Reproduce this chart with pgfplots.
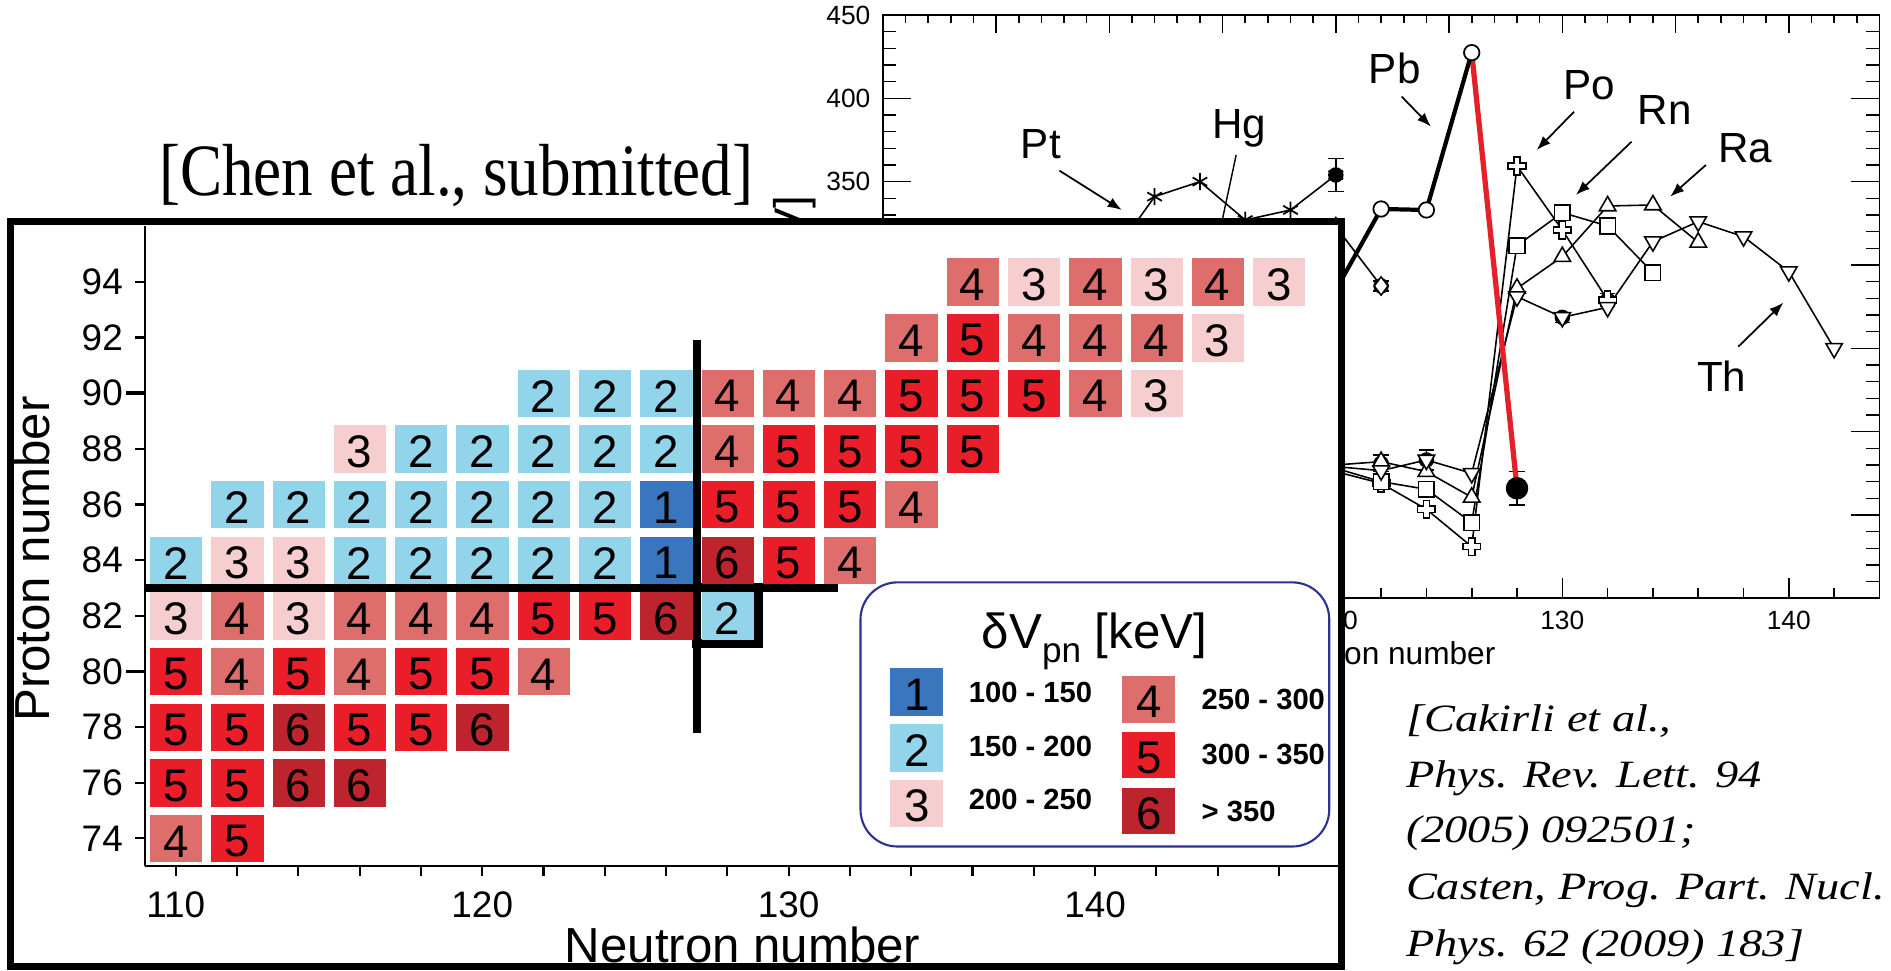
\documentclass[border=0pt]{standalone}
\usepackage{fontspec}
\setmainfont{Liberation Sans}
\newfontfamily\timesfont{Liberation Serif}
\usepackage{pgfplots}
\pgfplotsset{compat=1.18}
\usetikzlibrary{arrows.meta}

\definecolor{c1}{RGB}{58,118,190}
\definecolor{c2}{RGB}{146,212,234}
\definecolor{c3}{RGB}{246,206,208}
\definecolor{c4}{RGB}{222,110,108}
\definecolor{c5}{RGB}{234,30,40}
\definecolor{c6}{RGB}{190,36,46}
\definecolor{lgb}{RGB}{45,50,145}
\definecolor{redline}{RGB}{228,32,40}

\pgfdeclareplotmark{hplus}{%
 \pgfpathmoveto{\pgfqpoint{-0.35\pgfplotmarksize}{\pgfplotmarksize}}%
 \pgfpathlineto{\pgfqpoint{0.35\pgfplotmarksize}{\pgfplotmarksize}}%
 \pgfpathlineto{\pgfqpoint{0.35\pgfplotmarksize}{0.35\pgfplotmarksize}}%
 \pgfpathlineto{\pgfqpoint{\pgfplotmarksize}{0.35\pgfplotmarksize}}%
 \pgfpathlineto{\pgfqpoint{\pgfplotmarksize}{-0.35\pgfplotmarksize}}%
 \pgfpathlineto{\pgfqpoint{0.35\pgfplotmarksize}{-0.35\pgfplotmarksize}}%
 \pgfpathlineto{\pgfqpoint{0.35\pgfplotmarksize}{-\pgfplotmarksize}}%
 \pgfpathlineto{\pgfqpoint{-0.35\pgfplotmarksize}{-\pgfplotmarksize}}%
 \pgfpathlineto{\pgfqpoint{-0.35\pgfplotmarksize}{-0.35\pgfplotmarksize}}%
 \pgfpathlineto{\pgfqpoint{-\pgfplotmarksize}{-0.35\pgfplotmarksize}}%
 \pgfpathlineto{\pgfqpoint{-\pgfplotmarksize}{0.35\pgfplotmarksize}}%
 \pgfpathlineto{\pgfqpoint{-0.35\pgfplotmarksize}{0.35\pgfplotmarksize}}%
 \pgfpathclose
 \pgfusepathqfillstroke
}

\pgfplotsset{
  bgaxis/.style={at={(8.828cm,-5.983cm)}, anchor=south west, scale only axis,
    width=9.966cm, height=5.833cm, xmin=100, xmax=144, ymin=100, ymax=450,
    /pgf/number format/assume math mode=true,
    axis line style={line width=0.5pt},
    tick style={black, line width=0.45pt}},
  cellplot/.style={only marks, mark=square*, mark size=7.3pt,
    mark options={draw=#1, fill=#1, line width=0.1pt, yscale=0.904},
    nodes near coords align={center},
    every node near coord/.append style={font=\fontsize{13}{13}\selectfont, text=black, yshift=-0.03cm}},
}

\begin{document}
\begin{tikzpicture}
\useasboundingbox (0,0) rectangle (18.91cm,-9.71cm);

% ---------------- background chart ----------------
\begin{axis}[bgaxis, clip=false,
  xtick=\empty,
  ytick={100,150,...,450}, minor ytick={100,110,...,450},
  yticklabels={,,,,,350,400,450},
  ytick pos=both, tick align=inside,
  major tick length=0.28cm, minor tick length=0.13cm,
  yticklabel style={font=\fontsize{7.5}{8}\selectfont},
  ylabel={δV\textsubscript{pn} [keV]},
  ylabel style={at={(axis description cs:-0.0761,0.51)}, anchor=base, font=\fontsize{13}{14}\selectfont},
]
% error bars
\addplot[only marks, mark=none, black, error bars/.cd, y dir=both, y explicit,
  error bar style={line width=0.45pt}, error mark options={rotate=90, mark size=2.2pt, line width=0.45pt}]
  coordinates {(120,354) +- (0,10) (122,287.4) +- (0,3) (132,279) +- (0,4) (130,268.6) +- (0,3)
               (124,183) +- (0,6) (122,181) +- (0,5) (128,166) +- (0,10)};
% Pt
\addplot[black, line width=0.45pt, mark=asterisk, mark size=2.4pt, mark options={solid, line width=0.5pt}]
  coordinates {(110,303) (112,341) (114,350) (116,327) (118,333) (120,354)};
% Hg
\addplot[black, line width=0.45pt, mark=diamond*, mark size=2.6pt, mark options={fill=white}]
  coordinates {(120,323) (122,287.4)};
% Po
\addplot[black, line width=0.45pt, mark=hplus, mark size=2.5pt, mark options={fill=white}]
  coordinates {(120,176) (122,169) (124,153.4) (126,131) (128,359.4) (130,321) (132,279)};
% Rn
\addplot[black, line width=0.45pt, mark=square*, mark size=2.2pt, mark options={fill=white}]
  coordinates {(120,178) (122,170) (124,165.4) (126,145.4) (128,311.6) (130,331.4) (132,323.4) (134,295.4)};
% Ra
\addplot[black, line width=0.45pt, mark=triangle*, mark size=2.7pt, mark options={fill=white}]
  coordinates {(120,180) (122,182) (124,176) (126,160.6) (128,286) (130,305) (132,335.4) (134,336) (136,313.6)};
% Th
\addplot[black, line width=0.45pt, mark=triangle*, mark size=2.7pt, mark options={fill=white, rotate=180}]
  coordinates {(120,179) (122,176.6) (124,183) (126,175) (128,281) (130,268.6) (132,274.6) (134,314) (136,326) (138,317) (140,296) (142,250)};
% red line
\addplot[redline, line width=1.5pt] coordinates {(126,427.4) (128,166)};
% Pb
\addplot[black, line width=1.2pt, mark=*, mark size=2.2pt, mark options={fill=white, line width=0.5pt}]
  coordinates {(120,285) (122,333.6) (124,333) (126,427.4)};
% measured point
\addplot[only marks, black, mark=*, mark size=3pt] coordinates {(128,166)};

% labels and arrows
\begin{scope}[font=\fontsize{12}{12}\selectfont]
\node[anchor=base] at (axis cs:106.98,364) {Pt};
\node[anchor=base] at (axis cs:115.74,376) {Hg};
\node[anchor=base] at (axis cs:122.6,409) {Pb};
\node[anchor=base] at (axis cs:131.2,399) {Po};
\node[anchor=base] at (axis cs:134.53,384) {Rn};
\node[anchor=base] at (axis cs:138.07,361.4) {Ra};
\node[anchor=base] at (axis cs:137.04,224) {Th};
\end{scope}
\begin{scope}[line width=0.5pt, -{Latex[length=4pt,width=3pt]}]
\draw (axis cs:107.8,356.6) -- (axis cs:110.55,333);
\draw (axis cs:122.91,401) -- (axis cs:124.2,383);
\draw (axis cs:130.52,392) -- (axis cs:128.87,369);
\draw (axis cs:133.06,374) -- (axis cs:130.6,342);
\draw (axis cs:136.34,360) -- (axis cs:134.76,341);
\draw (axis cs:137.77,251) -- (axis cs:139.76,277.4);
\end{scope}
\draw[line width=0.4pt] (axis cs:115.6,366) -- (axis cs:114.8,315);
\end{axis}

% bottom ticks of background
\begin{axis}[bgaxis, axis x line*=bottom, axis y line=none,
  xtick={110,120,130,140}, xticklabels={,120,130,140},
  minor xtick={100,102,...,144}, tick align=inside,
  major tick length=0.2cm, minor tick length=0.1cm,
  xticklabel style={font=\fontsize{7.5}{8}\selectfont},
  xlabel={Neutron number},
  xlabel style={at={(axis description cs:0.5,-0.1143)}, anchor=base, font=\fontsize{9}{10}\selectfont},
]
\addplot[draw=none] coordinates {(100,100)};
\end{axis}

% top ticks of background
\begin{axis}[bgaxis, axis x line*=top, axis y line=none,
  xtick={100,105,...,140}, minor xtick={100,101,...,144}, tick align=inside,
  major tick length=0.18cm, minor tick length=0.08cm, xticklabels={},
]
\addplot[draw=none] coordinates {(100,100)};
\end{axis}

% ---------------- foreground box ----------------
\begin{scope}[x=0.01cm, y=-0.01cm]
\fill[white] (10.5,222) rectangle (1342,967.5);
\draw[line width=2pt] (10.5,222) rectangle (1342,967.5);
\end{scope}

\begin{axis}[at={(1.452cm,-8.662cm)}, anchor=south west, scale only axis,
  width=11.95cm, height=6.40cm, xmin=109, xmax=148, ymin=73, ymax=96, clip=false,
  axis x line*=bottom, axis y line*=left, axis line style={line width=0.5pt},
  xtick={110,120,130,140}, minor xtick={110,112,...,148},
  ytick={74,76,...,94},
  tick align=outside, major tick length=0.1cm, minor tick length=0.1cm,
  tick style={black, line width=0.6pt},
  /pgf/number format/assume math mode=true,
  ticklabel style={font=\fontsize{10.5}{12}\selectfont},
  xticklabel style={yshift=-0.03cm},
  extra y ticks={80,90}, extra y tick labels={},
  extra y tick style={major tick length=0.19cm, tick style={line width=1pt}},
  xlabel={Neutron number},
  xlabel style={at={(axis description cs:0.5,-0.151)}, anchor=base, font=\fontsize{14}{16}\selectfont},
  ylabel={Proton number},
  ylabel style={at={(axis description cs:-0.0797,0.48)}, anchor=base, font=\fontsize{14}{16}\selectfont},
]
\addplot[cellplot=c1, nodes near coords={1}] table {
x y
126 86
126 84
};
\addplot[cellplot=c2, nodes near coords={2}] table {
x y
110 84
116 84
118 84
120 84
122 84
124 84
112 86
114 86
116 86
118 86
120 86
122 86
124 86
118 88
120 88
122 88
124 88
126 88
122 90
124 90
126 90
128 82
};
\addplot[cellplot=c3, nodes near coords={3}] table {
x y
112 84
114 84
116 88
110 82
114 82
142 90
144 92
138 94
142 94
146 94
};
\addplot[cellplot=c4, nodes near coords={4}] table {
x y
112 82
116 82
118 82
120 82
112 80
116 80
122 80
110 74
132 84
134 86
128 88
128 90
130 90
132 90
140 90
134 92
138 92
140 92
142 92
136 94
140 94
144 94
};
\addplot[cellplot=c5, nodes near coords={5}] table {
x y
122 82
124 82
110 80
114 80
118 80
120 80
110 78
112 78
116 78
118 78
110 76
112 76
112 74
130 84
128 86
130 86
132 86
130 88
132 88
134 88
136 88
134 90
136 90
138 90
136 92
};
\addplot[cellplot=c6, nodes near coords={6}] table {
x y
126 82
114 78
120 78
114 76
116 76
128 84
};
\draw[line width=0.08cm] (axis cs:109,83) -- (axis cs:131.6,83);
\draw[line width=0.08cm] (axis cs:127,77.8) -- (axis cs:127,91.9);
\draw[line width=0.09cm] (axis cs:127,81) rectangle (axis cs:129,83);
\end{axis}

% ---------------- legend and texts ----------------
\begin{scope}[x=0.01cm, y=-0.01cm]
\draw[lgb, line width=0.6pt, rounded corners=0.37cm, fill=white] (861,582.7) rectangle (1330,847);
\node[anchor=base, font=\fontsize{14}{14}\selectfont] at (1095,649) {δV\raisebox{-0.28em}{\fontsize{10}{10}\selectfont pn} [keV]};
\begin{scope}[every node/.style={font=\fontsize{13}{13}\selectfont}]
\fill[c1] (891,668) rectangle (944,716); \node at (917.5,695) {1};
\fill[c2] (891,724) rectangle (944,772); \node at (917.5,751) {2};
\fill[c3] (891,780) rectangle (944,827); \node at (917.5,806) {3};
\fill[c4] (1123,676) rectangle (1176,723); \node at (1149.5,702) {4};
\fill[c5] (1123,732) rectangle (1176,778); \node at (1149.5,758) {5};
\fill[c6] (1123,788) rectangle (1176,834); \node at (1149.5,814) {6};
\end{scope}
\begin{scope}[every node/.style={anchor=base west, font=\bfseries\fontsize{8.3}{9}\selectfont}]
\node at (957,703) {100 - 150};
\node at (957,757) {150 - 200};
\node at (957,810) {200 - 250};
\node at (1190,710) {250 - 300};
\node at (1190,765) {300 - 350};
\node at (1190,822) {> 350};
\end{scope}
\node[anchor=base west, inner sep=0pt, xscale=0.855, font=\timesfont\fontsize{21}{24}\selectfont] at (158.7,196) {[Chen et al., submitted]};
\begin{scope}[every node/.style={anchor=base west, inner sep=0pt, xscale=1.2, font=\timesfont\itshape\fontsize{11}{13}\selectfont}]
\node at (1406,731.7) {[Cakirli et al.,};
\node at (1406,788.3) {Phys. Rev. Lett. 94};
\node at (1406,843) {(2005) 092501;};
\node at (1406,900) {Casten, Prog. Part. Nucl.};
\node at (1406,956.7) {Phys. 62 (2009) 183]};
\end{scope}
\end{scope}
\end{tikzpicture}
\end{document}
